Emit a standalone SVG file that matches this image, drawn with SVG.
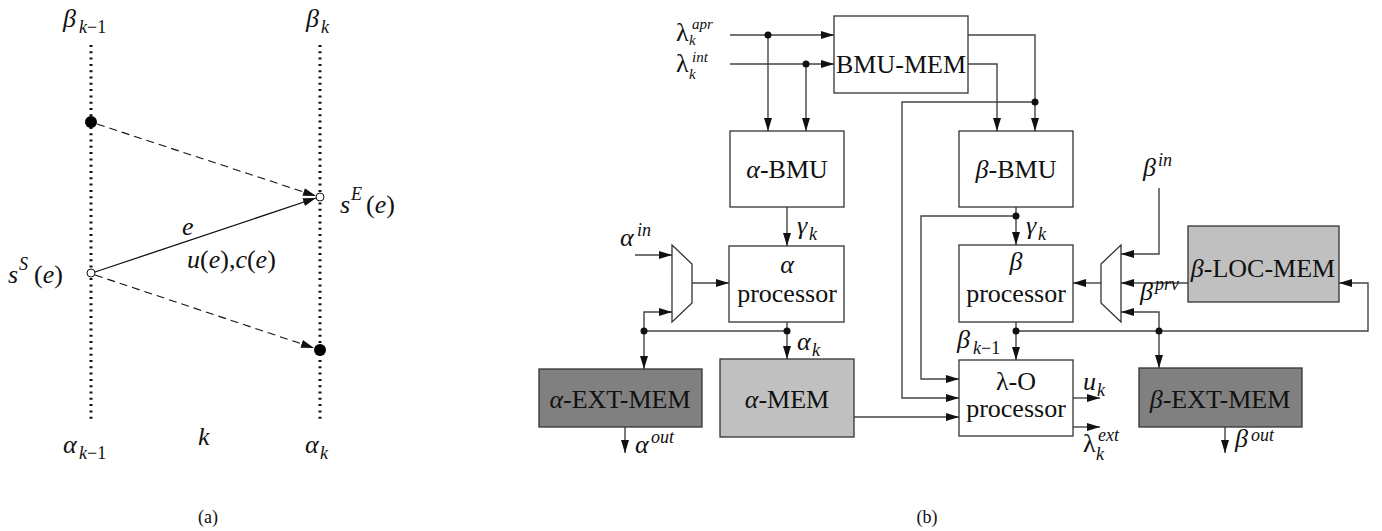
<svg xmlns="http://www.w3.org/2000/svg" width="1382" height="531" viewBox="0 0 1382 531">
<style>
.t{font-family:"Liberation Serif","DejaVu Serif",serif;font-size:26px;fill:#111}
.m{font-family:"Liberation Serif","DejaVu Serif",serif;font-size:26px;font-style:italic;fill:#111}
.s{font-family:"Liberation Serif","DejaVu Serif",serif;font-size:18px;font-style:italic;fill:#111}
.ss{font-family:"Liberation Serif","DejaVu Serif",serif;font-size:15px;font-style:italic;fill:#111}
.c{font-family:"Liberation Serif","DejaVu Serif",serif;font-size:18px;fill:#111}
.box{stroke:#333;stroke-width:1.3;fill:#fff}
.dk{fill:#808080}
.lt{fill:#c0c0c0}
.w{fill:none;stroke:#444;stroke-width:1.4}
.dot{fill:#111}
</style>
<defs>
<marker id="ar" viewBox="0 0 13 8" refX="13" refY="4" markerWidth="13" markerHeight="8" markerUnits="userSpaceOnUse" orient="auto"><path d="M0,0L13,4L0,8z" fill="#111"/></marker>
</defs>

<!-- Panel (a) -->
<g id="panel-a">
<line x1="91" y1="45" x2="91" y2="420" stroke="#111" stroke-width="3" stroke-dasharray="2 4.3"/>
<line x1="320" y1="45" x2="320" y2="420" stroke="#111" stroke-width="3" stroke-dasharray="2 4.3"/>
<g id="a-connectors">
<line x1="97" y1="124" x2="316" y2="196" stroke="#111" stroke-width="1.1" stroke-dasharray="8 5" marker-end="url(#ar)"/>
<line x1="95" y1="272" x2="316" y2="198" stroke="#111" stroke-width="1.3" marker-end="url(#ar)"/>
<line x1="95" y1="275" x2="314" y2="348" stroke="#111" stroke-width="1.1" stroke-dasharray="8 5" marker-end="url(#ar)"/>
</g>
<circle cx="91" cy="122" r="6" fill="#000"/>
<circle cx="320" cy="197" r="4" fill="#fff" stroke="#111" stroke-width="1"/>
<circle cx="91" cy="273" r="4" fill="#fff" stroke="#111" stroke-width="1"/>
<circle cx="320" cy="350" r="6" fill="#000"/>
<text class="m" x="63" y="27">β</text><text class="c" x="79" y="33"><tspan font-style="italic">k</tspan>−1</text>
<text class="m" x="306" y="27">β</text><text class="s" x="321" y="33">k</text>
<text class="m" x="63" y="453">α</text><text class="c" x="79" y="459"><tspan font-style="italic">k</tspan>−1</text>
<text class="m" x="305" y="453">α</text><text class="s" x="320" y="459">k</text>
<text class="m" x="198" y="445">k</text>
<text class="m" x="340" y="213">s</text><text class="s" x="351" y="200">E</text><text class="t" x="366" y="213">(<tspan font-style="italic">e</tspan>)</text>
<text class="m" x="8" y="283">s</text><text class="s" x="19" y="270">S</text><text class="t" x="34" y="283">(<tspan font-style="italic">e</tspan>)</text>
<text class="m" x="182" y="235">e</text>
<text class="t" x="187" y="268"><tspan font-style="italic">u</tspan>(<tspan font-style="italic">e</tspan>),<tspan font-style="italic">c</tspan>(<tspan font-style="italic">e</tspan>)</text>
<text class="c" x="208" y="523" text-anchor="middle">(a)</text>
</g>

<!-- Panel (b) connectors -->
<g id="connectors">
<path class="w" d="M730,35H834" marker-end="url(#ar)"/>
<path class="w" d="M730,64H834" marker-end="url(#ar)"/>
<path class="w" d="M768,35V131" marker-end="url(#ar)"/>
<path class="w" d="M806,64V131" marker-end="url(#ar)"/>
<path class="w" d="M968,35H1035V131" marker-end="url(#ar)"/>
<path class="w" d="M968,64H997V131" marker-end="url(#ar)"/>
<path class="w" d="M1035,102H902V398H959" marker-end="url(#ar)"/>
<path class="w" d="M787,207V246" marker-end="url(#ar)"/>
<path class="w" d="M1016,207V245" marker-end="url(#ar)"/>
<path class="w" d="M1016,216H921V379H959" marker-end="url(#ar)"/>
<path class="w" d="M635,255H672" marker-end="url(#ar)"/>
<path class="w" d="M692,283H729" marker-end="url(#ar)"/>
<path class="w" d="M644,331V312H672" marker-end="url(#ar)"/>
<path class="w" d="M644,331H787"/>
<path class="w" d="M787,322V359" marker-end="url(#ar)"/>
<path class="w" d="M644,331V369" marker-end="url(#ar)"/>
<path class="w" d="M625,427V453" marker-end="url(#ar)"/>
<path class="w" d="M854,417H959" marker-end="url(#ar)"/>
<path class="w" d="M1016,322V360" marker-end="url(#ar)"/>
<path class="w" d="M1016,331H1368V283H1339" marker-end="url(#ar)"/>
<path class="w" d="M1159,331V368" marker-end="url(#ar)"/>
<path class="w" d="M1159,331V312H1121" marker-end="url(#ar)"/>
<path class="w" d="M1159,188V254H1121" marker-end="url(#ar)"/>
<path class="w" d="M1188,283H1121" marker-end="url(#ar)"/>
<path class="w" d="M1101,283H1073" marker-end="url(#ar)"/>
<path class="w" d="M1073,398H1100" marker-end="url(#ar)"/>
<path class="w" d="M1073,427H1100" marker-end="url(#ar)"/>
<path class="w" d="M1225,427V453" marker-end="url(#ar)"/>
<circle class="dot" cx="768" cy="35" r="3.5"/>
<circle class="dot" cx="806" cy="64" r="3.5"/>
<circle class="dot" cx="1035" cy="102" r="3.5"/>
<circle class="dot" cx="1016" cy="216" r="3.5"/>
<circle class="dot" cx="644" cy="331" r="3.5"/>
<circle class="dot" cx="787" cy="331" r="3.5"/>
<circle class="dot" cx="1016" cy="331" r="3.5"/>
<circle class="dot" cx="1159" cy="331" r="3.5"/>
</g>

<!-- Panel (b) nodes -->
<g id="bmu-mem"><rect class="box" x="834" y="16" width="134" height="77"/><text class="t" x="901" y="73" text-anchor="middle">BMU-MEM</text></g>
<g id="alpha-bmu"><rect class="box" x="730" y="131" width="114" height="76"/><text class="t" x="787" y="178" text-anchor="middle"><tspan font-style="italic">α</tspan>-BMU</text></g>
<g id="beta-bmu"><rect class="box" x="959" y="131" width="114" height="76"/><text class="t" x="1016" y="178" text-anchor="middle"><tspan font-style="italic">β</tspan>-BMU</text></g>
<g id="alpha-proc"><rect class="box" x="729" y="246" width="115" height="76"/><text class="m" x="787" y="273" text-anchor="middle">α</text><text class="t" x="787" y="302" text-anchor="middle">processor</text></g>
<g id="beta-proc"><rect class="box" x="959" y="245" width="114" height="77"/><text class="m" x="1016" y="270" text-anchor="middle">β</text><text class="t" x="1016" y="302" text-anchor="middle">processor</text></g>
<g id="lambda-o"><rect class="box" x="959" y="360" width="114" height="76"/><text class="t" x="1016" y="390" text-anchor="middle">λ-O</text><text class="t" x="1016" y="417" text-anchor="middle">processor</text></g>
<g id="alpha-mux"><polygon class="box" points="672,245 692,264 692,303 672,322"/></g>
<g id="beta-mux"><polygon class="box" points="1121,245 1121,322 1101,303 1101,264"/></g>
<g id="alpha-ext-mem"><rect class="box dk" x="539" y="369" width="163" height="58"/><text class="t" x="620" y="408" text-anchor="middle"><tspan font-style="italic">α</tspan>-EXT-MEM</text></g>
<g id="alpha-mem"><rect class="box lt" x="720" y="359" width="134" height="78"/><text class="t" x="787" y="408" text-anchor="middle"><tspan font-style="italic">α</tspan>-MEM</text></g>
<g id="beta-ext-mem"><rect class="box dk" x="1139" y="368" width="163" height="59"/><text class="t" x="1220" y="408" text-anchor="middle"><tspan font-style="italic">β</tspan>-EXT-MEM</text></g>
<g id="beta-loc-mem"><rect class="box lt" x="1188" y="226" width="151" height="76"/><text class="t" x="1263" y="277" text-anchor="middle"><tspan font-style="italic">β</tspan>-LOC-MEM</text></g>

<!-- Panel (b) labels -->
<g id="labels">
<text class="t" x="676" y="41">λ</text><text class="ss" x="692" y="29">apr</text><text class="ss" x="689" y="45">k</text>
<text class="t" x="676" y="72">λ</text><text class="ss" x="692" y="62">int</text><text class="ss" x="689" y="79">k</text>
<text class="m" x="797" y="234">γ</text><text class="s" x="809" y="240">k</text>
<text class="m" x="620" y="246">α</text><text class="s" x="637" y="236">in</text>
<text class="m" x="797" y="350">α</text><text class="s" x="812" y="356">k</text>
<text class="m" x="635" y="453">α</text><text class="s" x="651" y="443">out</text>
<text class="m" x="1026" y="234">γ</text><text class="s" x="1038" y="240">k</text>
<text class="m" x="1143" y="176">β</text><text class="s" x="1158" y="166">in</text>
<text class="m" x="1140" y="300">β</text><text class="s" x="1155" y="290">prv</text>
<text class="m" x="957" y="348">β</text><text class="c" x="973" y="354"><tspan font-style="italic">k</tspan>−1</text>
<text class="m" x="1083" y="390">u</text><text class="s" x="1097" y="396">k</text>
<text class="t" x="1083" y="452">λ</text><text class="s" x="1098" y="441">ext</text><text class="s" x="1096" y="460">k</text>
<text class="m" x="1235" y="447">β</text><text class="s" x="1251" y="441">out</text>
<text class="c" x="927" y="523" text-anchor="middle">(b)</text>
</g>
</svg>
